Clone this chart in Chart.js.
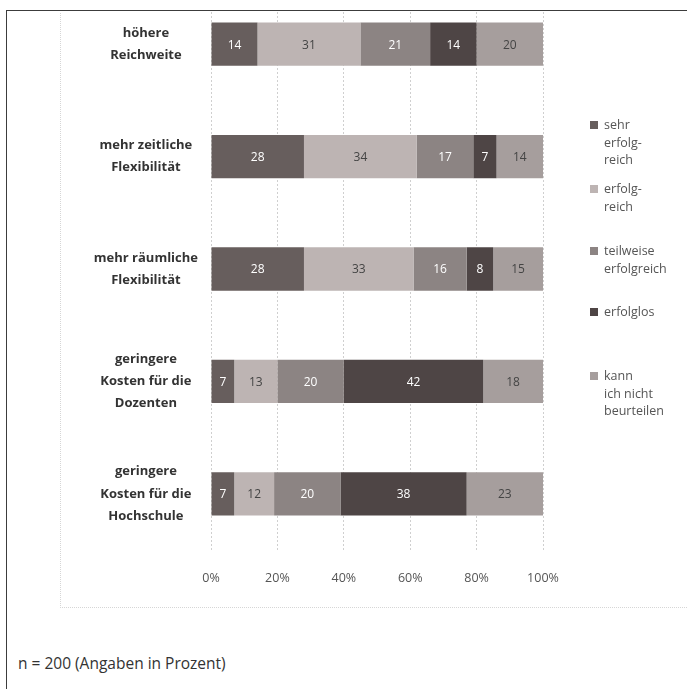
<!DOCTYPE html>
<html>
<head>
<meta charset="utf-8">
<script src="https://cdn.jsdelivr.net/npm/chart.js@4/dist/chart.umd.min.js"></script>
<style>
body{margin:0;background:#fff;font-family:"Open Sans",sans-serif;width:687px;height:689px;overflow:hidden;position:relative;}
#outer{position:absolute;left:6px;top:10px;width:720px;height:720px;border-left:1.5px solid #3c3c3c;border-top:1.5px solid #3c3c3c;}
#inner{position:absolute;left:60px;top:13px;width:700px;height:594px;border-left:1px dotted #d6d6d6;border-bottom:1px dotted #d6d6d6;}
#clip{position:absolute;left:0;top:11px;width:687px;height:595px;overflow:hidden;}
#wrap{position:absolute;left:0;top:-23px;width:687px;height:619px;}
#legend{position:absolute;left:0;top:0;}
.li{position:absolute;left:590px;font-size:12.5px;line-height:17.5px;color:#555;}
.li span.sq{position:absolute;left:0;top:5px;width:8px;height:8px;}
.li div{margin-left:14px;}
#note{position:absolute;left:18px;top:652px;font-size:15.5px;color:#333;}
</style>
</head>
<body>
<div id="outer"></div>
<div id="inner"></div>
<div id="clip"><div id="wrap"><canvas id="c"></canvas></div></div>
<div id="legend"></div>
<div id="note">n = 200 (Angaben in Prozent)</div>
<script>
const categories=[
["höhere","Reichweite"],
["mehr zeitliche","Flexibilität"],
["mehr räumliche","Flexibilität"],
["geringere","Kosten für die","Dozenten"],
["geringere","Kosten für die","Hochschule"]
];
const seriesNames=["sehr erfolgreich","erfolgreich","teilweise erfolgreich","erfolglos","kann ich nicht beurteilen"];
const legendLines=[["sehr","erfolg-","reich"],["erfolg-","reich"],["teilweise","erfolgreich"],["erfolglos"],["kann","ich nicht","beurteilen"]];
const sehrErfolgreich=[14,28,28,7,7];
const erfolgreich=[31,34,33,13,12];
const teilweise=[21,17,16,20,20];
const erfolglos=[14,7,8,42,38];
const kannNicht=[20,14,15,18,23];
const xTicks=[0,20,40,60,80,100];

const colors=["#675e5d","#bdb4b3","#8c8483","#4e4545","#a69e9d"];
const labelColors=["#fff","#444","#fff","#fff","#444"];
const values=[sehrErfolgreich,erfolgreich,teilweise,erfolglos,kannNicht];

/* value labels in the bar centres */
const barText={
id:"barText",
afterDatasetsDraw(chart){
let ctx=chart.ctx;
ctx.save();
ctx.font="12px 'Open Sans'";
ctx.textAlign="center";
ctx.textBaseline="middle";
chart.data.datasets.forEach((ds,i)=>{
chart.getDatasetMeta(i).data.forEach((bar,j)=>{
ctx.fillStyle=labelColors[i];
ctx.fillText(ds.data[j],(bar.x+bar.base)/2,bar.y+1);
});
});
ctx.restore();
}
};

new Chart(document.getElementById("c"),{
type:"bar",
data:{
labels:categories,
datasets:seriesNames.map((n,i)=>({
label:n,
data:values[i],
backgroundColor:colors[i],
borderWidth:0,
barPercentage:0.385,
categoryPercentage:1
}))
},
options:{
indexAxis:"y",
responsive:true,
maintainAspectRatio:false,
animation:false,
layout:{padding:{left:0,right:144,top:0,bottom:0}},
plugins:{legend:{display:false},tooltip:{enabled:false}},
scales:{
x:{
stacked:true,min:0,max:100,
afterBuildTicks(s){s.ticks=xTicks.map(v=>({value:v}));},
afterFit(s){s.paddingLeft=0;s.paddingRight=0;},
grid:{color:"#cfcfcf",drawTicks:false},
border:{display:false,dash:[2,2]},
ticks:{padding:21,color:"#555",font:{family:"Open Sans",size:12.5},callback:v=>v+"%"}
},
y:{
stacked:true,
afterFit(s){s.width=211;s.paddingTop=0;s.paddingBottom=0;},
grid:{display:false},
border:{display:false},
ticks:{crossAlign:"center",padding:5,color:"#333",font:{family:"Open Sans",size:13,weight:"bold",lineHeight:1.7}}
}
}
},
plugins:[barText]
});

/* legend on the right */
const legendTops=[116,180,242,303,367];
let lg=document.getElementById("legend");
seriesNames.forEach((n,i)=>{
let d=document.createElement("div");
d.className="li";
d.style.top=legendTops[i]+"px";
d.innerHTML='<span class="sq" style="background:'+colors[i]+'"></span><div>'+legendLines[i].join("<br>")+"</div>";
lg.appendChild(d);
});
</script>
</body>
</html>
